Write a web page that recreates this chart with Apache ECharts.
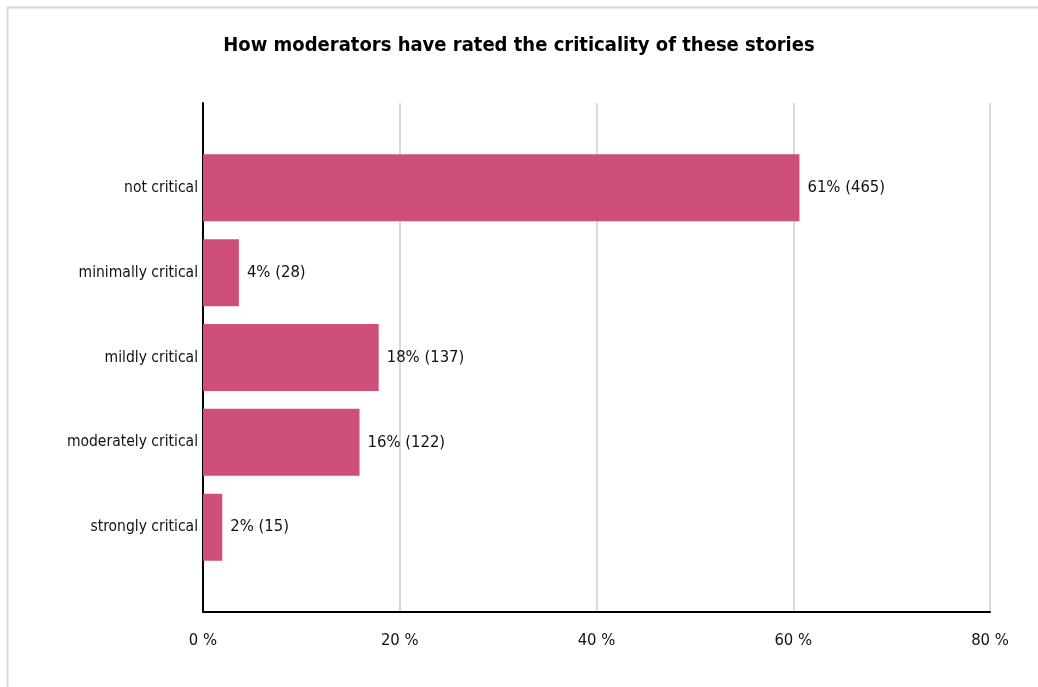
<!DOCTYPE html>
<html>
<head>
<meta charset="utf-8">
<script src="https://cdn.jsdelivr.net/npm/echarts@6/dist/echarts.min.js"></script>
<style>
html,body{margin:0;padding:0;background:#fff;}
#chart{width:1038px;height:687px;}
</style>
</head>
<body>
<div id="chart"></div>
<script>
const titleText = 'How moderators have rated the criticality of these stories';
const categories = ['not critical', 'minimally critical', 'mildly critical', 'moderately critical', 'strongly critical'];
const percents = [60.63, 3.65, 17.86, 15.91, 1.96];
const counts = [465, 28, 137, 122, 15];
const xTicks = [0, 20, 40, 60, 80];

const FONT = '"DejaVu Sans Condensed", "Liberation Sans Narrow", sans-serif';
// pad categories with blanks so the axis frame extends beyond the bars
const axisCats = [''].concat(categories, ['']);
const seriesData = [null].concat(percents.map((p, i) => ({ value: p, count: counts[i] })), [null]);

const chart = echarts.init(document.getElementById('chart'));
chart.setOption({
  backgroundColor: '#ffffff',
  animation: false,
  title: {
    text: titleText,
    left: 'center',
    top: 31,
    textStyle: { fontFamily: FONT, fontWeight: 'bold', fontSize: 20, color: '#000' }
  },
  graphic: [
    { type: 'line', shape: { x1: 7.5, y1: 7, x2: 7.5, y2: 687 }, style: { stroke: '#d8d8d8', lineWidth: 2 } },
    { type: 'line', shape: { x1: 7, y1: 7.5, x2: 1038, y2: 7.5 }, style: { stroke: '#d8d8d8', lineWidth: 2 } }
  ],
  grid: { left: 203, right: 48, top: 103, bottom: 75, containLabel: false },
  xAxis: {
    type: 'value',
    min: xTicks[0],
    max: xTicks[xTicks.length - 1],
    interval: 20,
    axisLine: { show: true, onZero: false, lineStyle: { color: '#000', width: 2 } },
    axisTick: { show: false },
    splitLine: { show: true, lineStyle: { color: '#d9d9d9', width: 2 } },
    axisLabel: { formatter: '{value} %', fontFamily: FONT, fontSize: 16.5, color: '#111', margin: 20 }
  },
  yAxis: {
    type: 'category',
    data: axisCats,
    inverse: true,
    boundaryGap: false,
    axisLine: { show: true, lineStyle: { color: '#000', width: 2 } },
    axisTick: { show: false },
    splitLine: { show: false },
    axisLabel: { fontFamily: FONT, fontSize: 15.5, color: '#111', margin: 5, interval: 0 }
  },
  series: [{
    type: 'bar',
    data: seriesData,
    barWidth: 67,
    itemStyle: { color: '#CF4F7B' },
    label: {
      show: true,
      position: 'right',
      distance: 8,
      fontFamily: FONT,
      fontSize: 16.5,
      color: '#111',
      formatter: p => Math.round(p.value) + '% (' + p.data.count + ')'
    }
  }]
});
</script>
</body>
</html>
